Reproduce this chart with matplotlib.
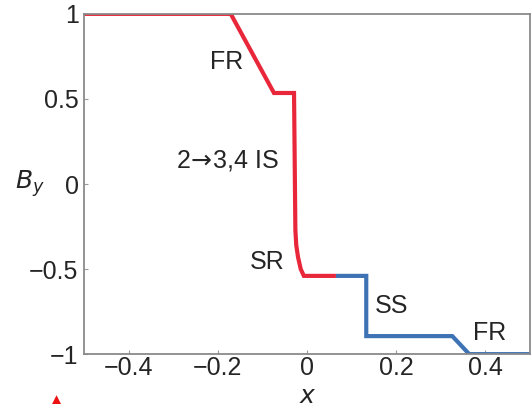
"""Piecewise B_y profile across x with wave labels."""

import matplotlib
matplotlib.use("Agg")
import matplotlib.pyplot as plt

# red part of the profile (fast rarefaction, intermediate shock, slow rarefaction)
x_red = [-0.5, -0.171, -0.074, -0.029, -0.026, -0.024, -0.020, -0.014, -0.007, 0.065]
y_red = [1.0, 1.0, 0.535, 0.535, -0.27, -0.36, -0.43, -0.50, -0.54, -0.54]

# blue part (slow shock, fast rarefaction)
x_blue = [0.065, 0.133, 0.133, 0.326, 0.364, 0.5]
y_blue = [-0.54, -0.54, -0.894, -0.894, -1.0, -1.0]

labels = ["FR", "2$\\!\\rightarrow\\!$3,4 IS", "SR", "SS", "FR"]
label_x = [-0.18, -0.178, -0.09, 0.189, 0.409]
label_y = [0.718, 0.141, -0.459, -0.718, -0.876]

xticks = [-0.4, -0.2, 0, 0.2, 0.4]
yticks = [-1, -0.5, 0, 0.5, 1]

RED = "#e8283a"
BLUE = "#3d72b4"
TXT = "#252525"

plt.rcParams["font.family"] = ["Liberation Sans", "DejaVu Sans"]

fig = plt.figure(figsize=(5.32, 4.08), dpi=100)
ax = fig.add_axes([0.158, 0.132, 0.838, 0.834])

ax.plot(x_red, y_red, color=RED, lw=3, solid_capstyle="butt", solid_joinstyle="miter")
ax.plot(x_blue, y_blue, color=BLUE, lw=3, solid_capstyle="butt", solid_joinstyle="miter")

for lab, lx, ly in zip(labels, label_x, label_y):
    ax.text(lx, ly, lab, fontsize=18, color=TXT, ha="center", va="center")

ax.set_xlim(-0.5, 0.5)
ax.set_ylim(-1, 1)
ax.set_xticks(xticks)
ax.set_yticks(yticks)
ax.set_xticklabels(["\u22120.4", "\u22120.2", "0", "0.2", "0.4"])
ax.set_yticklabels(["\u22121", "\u22120.5", "0", "0.5", "1"])
ax.tick_params(direction="in", length=3, width=0.8, color="#999999",
               labelsize=18, labelcolor=TXT)
ax.tick_params(axis="x", pad=1.5)
ax.tick_params(axis="y", pad=4)
for sp in ax.spines.values():
    sp.set_color("#8a8a8a")
    sp.set_linewidth(1.3)

ax.set_xlabel("$x$", fontsize=18, color=TXT, va="center")
ax.set_ylabel("$B_y$", fontsize=18, color=TXT, rotation=0, va="center", ha="center")
ax.xaxis.set_label_coords(0.502, -0.123)
ax.yaxis.set_label_coords(-0.121, 0.5)

fig.text(0.107, 0.002, "\u25b2", color="#ee1111", fontsize=11, ha="center", va="bottom")

fig.savefig("out.png", dpi=100)
